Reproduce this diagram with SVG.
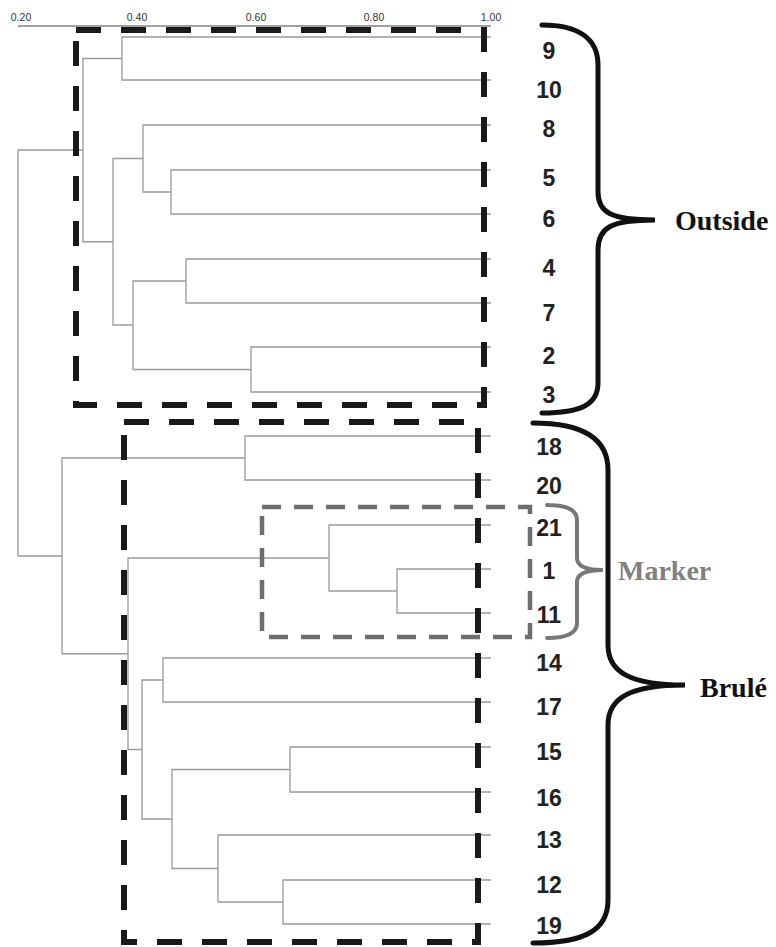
<svg xmlns="http://www.w3.org/2000/svg" width="776" height="947" viewBox="0 0 776 947">
<style>
.ax{font-family:"Liberation Sans",Arial,sans-serif;font-size:10.5px;fill:#333;text-anchor:middle}
.lf{font-family:"Liberation Sans",Arial,sans-serif;font-size:23px;font-weight:bold;fill:#222;text-anchor:middle}
.br{font-family:"Liberation Serif","Times New Roman",serif;font-size:28px;font-weight:bold}
.tree path{fill:none;stroke:#9a9a9a;stroke-width:1.3}
.box{fill:none}
.brace{fill:none;stroke-linecap:round}
</style>
<rect width="776" height="947" fill="#ffffff"/>
<g id="axis">
<line x1="18" y1="26" x2="491" y2="26" stroke="#444" stroke-width="1.2"/>
<text class="ax" x="21" y="21">0.20</text>
<text class="ax" x="137" y="21">0.40</text>
<text class="ax" x="256" y="21">0.60</text>
<text class="ax" x="374" y="21">0.80</text>
<text class="ax" x="491" y="21">1.00</text>
</g>
<g id="connectors" class="tree">
<path d="M491 37H122V80H491"/>
<path d="M491 170H171V214H491"/>
<path d="M491 125H143V192H171"/>
<path d="M491 259H186V303H491"/>
<path d="M491 347H251V392H491"/>
<path d="M186 281H133V369.5H251"/>
<path d="M143 158.5H113V325H133"/>
<path d="M122 58.5H83V241.75H113"/>
<path d="M491 436H245V480H491"/>
<path d="M491 569H397V613H491"/>
<path d="M491 525H329V591H397"/>
<path d="M491 658H163V702H491"/>
<path d="M491 747H290V792H491"/>
<path d="M491 880H283V924H491"/>
<path d="M491 835H218V902H283"/>
<path d="M290 769.5H172V868.5H218"/>
<path d="M163 680H142V819H172"/>
<path d="M329 558H128V749.5H142"/>
<path d="M245 458H62V653.75H128"/>
<path d="M83 150H18V556H62"/>
</g>
<g id="leaves">
<text class="lf" x="549" y="59">9</text>
<text class="lf" x="549" y="98">10</text>
<text class="lf" x="549" y="137">8</text>
<text class="lf" x="549" y="186">5</text>
<text class="lf" x="549" y="227">6</text>
<text class="lf" x="549" y="276">4</text>
<text class="lf" x="549" y="321">7</text>
<text class="lf" x="549" y="364">2</text>
<text class="lf" x="549" y="403">3</text>
<text class="lf" x="549" y="455">18</text>
<text class="lf" x="549" y="494">20</text>
<text class="lf" x="549" y="536">21</text>
<text class="lf" x="549" y="579">1</text>
<text class="lf" x="549" y="623">11</text>
<text class="lf" x="549" y="671">14</text>
<text class="lf" x="549" y="715">17</text>
<text class="lf" x="549" y="760">15</text>
<text class="lf" x="549" y="806">16</text>
<text class="lf" x="549" y="848">13</text>
<text class="lf" x="549" y="893">12</text>
<text class="lf" x="549" y="934">19</text>
</g>
<g id="outside-cluster">
<rect class="box" x="76" y="30" width="408" height="375" stroke="#1a1a1a" stroke-width="6" stroke-dasharray="25 20"/>
<path class="brace" d="M542 25C580 25 598 40 598 65L598 192C598 212 610 220 655 220C610 220 598 228 598 250L598 383C598 405 580 413 542 413" stroke="#111" stroke-width="5"/>
<text class="br" x="675" y="230" fill="#111">Outside</text>
</g>
<g id="brule-cluster">
<rect class="box" x="124" y="422" width="354" height="520" stroke="#1a1a1a" stroke-width="6" stroke-dasharray="25 20"/>
<path class="brace" d="M533 423C585 423 608 440 608 470L608 645C608 672 630 685 685 685C630 685 608 698 608 725L608 900C608 930 585 943 533 943" stroke="#111" stroke-width="5"/>
<text class="br" x="700" y="697" fill="#111">Brulé</text>
</g>
<g id="marker-cluster">
<rect class="box" x="262" y="507" width="268" height="130" stroke="#6e6e6e" stroke-width="4.5" stroke-dasharray="19 13"/>
<path class="brace" d="M547 505C568 505 577 510 577 520L577 558C577 566 585 570 603 570C585 570 577 574 577 582L577 623C577 632 568 638 547 638" stroke="#777" stroke-width="4"/>
<text class="br" x="618" y="580" fill="#808080" font-size="27">Marker</text>
</g>
</svg>
